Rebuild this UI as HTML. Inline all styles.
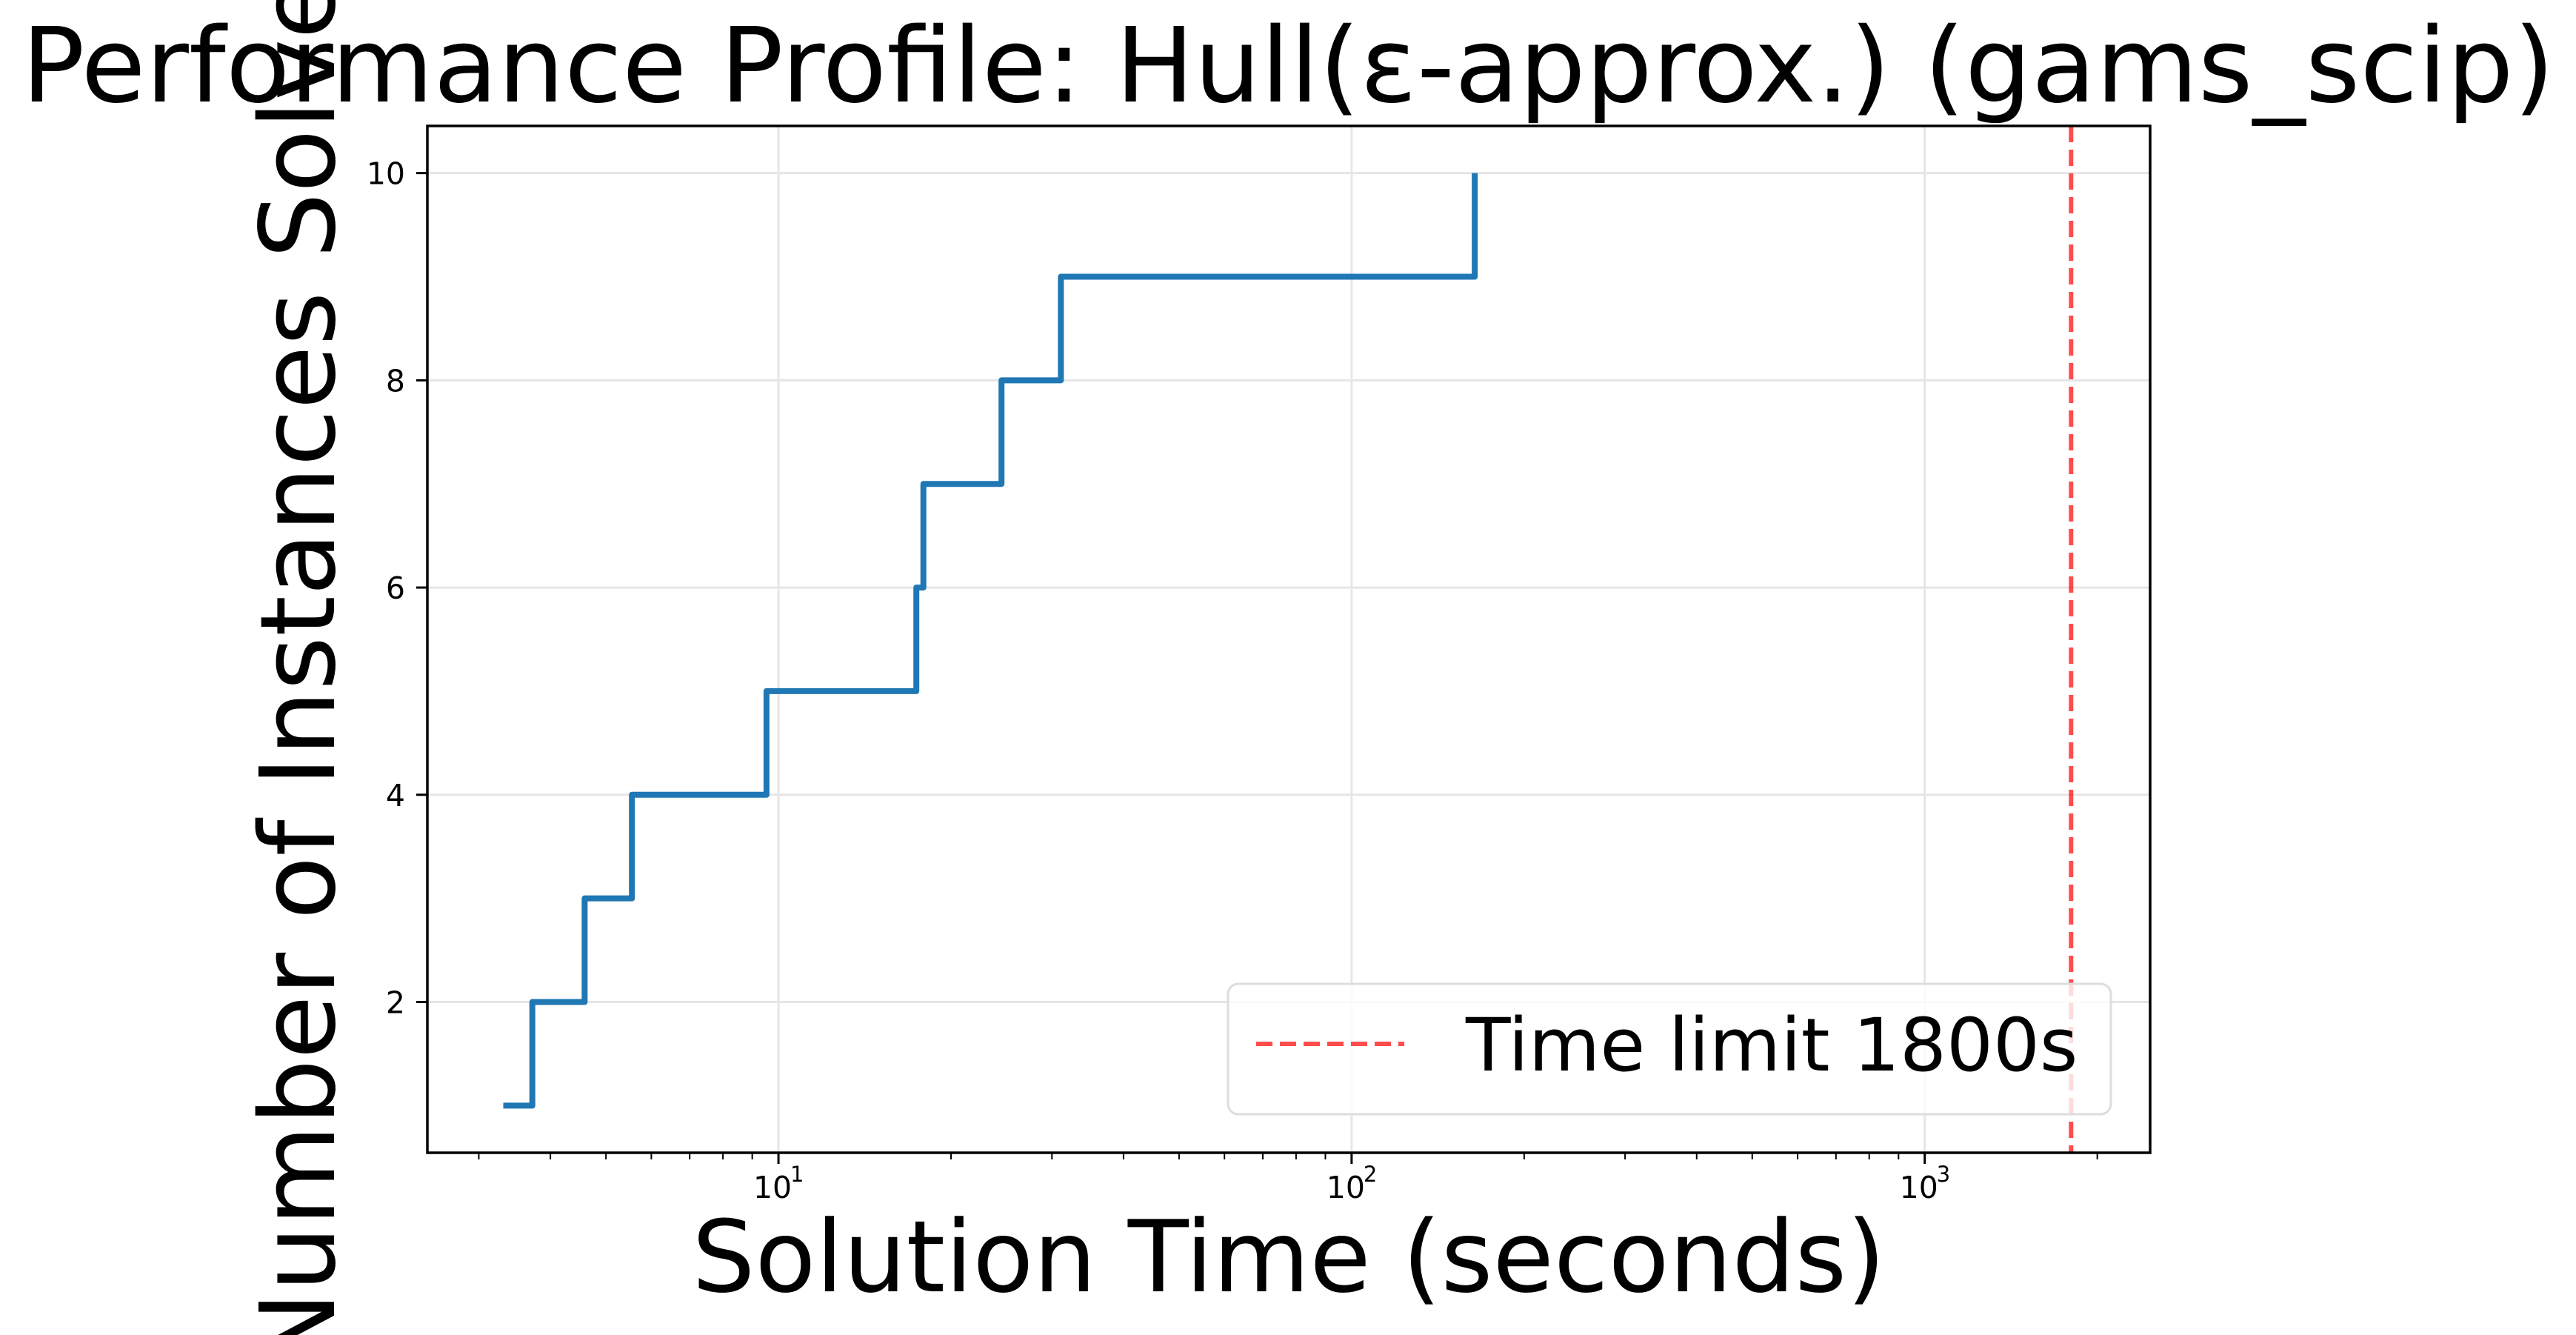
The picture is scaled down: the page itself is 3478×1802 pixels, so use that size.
<!DOCTYPE html>
<html><head><meta charset="utf-8"><style>
html,body{margin:0;padding:0;background:#fff}
svg{display:block}
text{font-family:"DejaVu Sans","Liberation Sans",sans-serif;fill:#000}
</style></head><body>
<svg id="chart" width="3478" height="1802" viewBox="0 0 3478 1802" xmlns="http://www.w3.org/2000/svg">
<rect width="3478" height="1802" fill="#fff"/>
<text x="1739" y="137" font-size="140" text-anchor="middle" textLength="3420" lengthAdjust="spacingAndGlyphs">Performance Profile: Hull(ε-approx.) (gams_scip)</text>
<g id="grid"></g>
<g id="series"></g>
<g id="axes"></g>
<text x="1740" y="1743" font-size="134" text-anchor="middle">Solution Time (seconds)</text>
<text transform="translate(451,863) rotate(-90)" x="0" y="0" font-size="140" text-anchor="middle">Number of Instances Solved</text>
<g id="legend">
<rect x="1658" y="1328" width="1192" height="176" rx="14" fill="#fff" fill-opacity="0.8" stroke="#ddd" stroke-width="3"/>
<line x1="1696" y1="1409" x2="1896" y2="1409" stroke="#ff4d4d" stroke-width="6" stroke-dasharray="22,10"/>
<text x="1979" y="1445" font-size="99">Time limit 1800s</text>
</g>
</svg>
<script>
const solveTimes = [3.31, 3.72, 4.59, 5.55, 9.53, 17.4, 17.9, 24.5, 31.1, 164];
const solvedCounts = [1, 2, 3, 4, 5, 6, 7, 8, 9, 10];
const yTicks = [2, 4, 6, 8, 10];
const xMajorTicks = [10, 100, 1000];
const xTickExponents = ["1", "2", "3"];
const timeLimit = [1800];

const L = 577, R = 2903, T = 170, B = 1556;
const xMin = 2.44, xMax = 2473;
const yMin = 0.545, yMax = 10.455;
function xs(v){ return L + (Math.log10(v) - Math.log10(xMin)) / (Math.log10(xMax) - Math.log10(xMin)) * (R - L); }
function ys(v){ return B - (v - yMin) / (yMax - yMin) * (B - T); }
const NS = "http://www.w3.org/2000/svg";
function mk(tag, attrs, parent){ const e = document.createElementNS(NS, tag); for (const k in attrs) e.setAttribute(k, attrs[k]); parent.appendChild(e); return e; }
const grid = document.getElementById('grid'), axes = document.getElementById('axes'), series = document.getElementById('series');

yTicks.forEach(v => {
  const y = ys(v);
  const g = mk('line', {x1:L, x2:R, y1:y, y2:y, stroke:'#e6e6e6', 'stroke-width':3}, grid);
  
  
  const t = mk('line', {x1:L-15, x2:L, y1:y, y2:y, stroke:'#000', 'stroke-width':3}, axes);
  
  
  const lb = mk('text', {x:L-30, y:y+15, 'font-size':41, 'text-anchor':'end'}, axes);
  lb.textContent = String(v);
  
  
});
xMajorTicks.forEach((v, i) => {
  const x = xs(v);
  const g = mk('line', {x1:x, x2:x, y1:T, y2:B, stroke:'#e6e6e6', 'stroke-width':3}, grid);
  
  
  const t = mk('line', {x1:x, x2:x, y1:B, y2:B+15, stroke:'#000', 'stroke-width':3}, axes);
  
  
  const lb = mk('text', {x:x-8, y:1617, 'font-size':41, 'text-anchor':'middle'}, axes);
  lb.textContent = '10';
  
  
  const sp = mk('text', {x:x+16, y:1595, 'font-size':29}, axes);
  sp.textContent = xTickExponents[i];
  
  
});
for (let d = 1; d <= 1000; d *= 10) {
  for (let m = 2; m <= 9; m++) {
    const v = m * d;
    if (v < xMin || v > xMax) continue;
    const x = xs(v);
    const t = mk('line', {x1:x, x2:x, y1:B, y2:B+9, stroke:'#000', 'stroke-width':2}, axes);
    
    
  }
}

let d = '';
for (let i = 0; i < solveTimes.length; i++) {
  const x = xs(solveTimes[i]);
  if (i === 0) d += 'M' + x + ',' + ys(solvedCounts[0]);
  else d += ' L' + x + ',' + ys(solvedCounts[i-1]) + ' L' + x + ',' + ys(solvedCounts[i]);
}
const path = mk('path', {d:d, fill:'none', stroke:'#1f77b4', 'stroke-width':8, 'stroke-linejoin':'round'}, series);



timeLimit.forEach(v => {
  const x = xs(v);
  const ln = mk('line', {x1:x, x2:x, y1:T, y2:B, stroke:'#ff0000', 'stroke-opacity':0.7, 'stroke-width':6, 'stroke-dasharray':'22,10'}, series);
  
  
});

const frame = mk('rect', {x:L, y:T, width:R-L, height:B-T, fill:'none', stroke:'#000', 'stroke-width':3.5}, axes);


</script>
</body></html>
